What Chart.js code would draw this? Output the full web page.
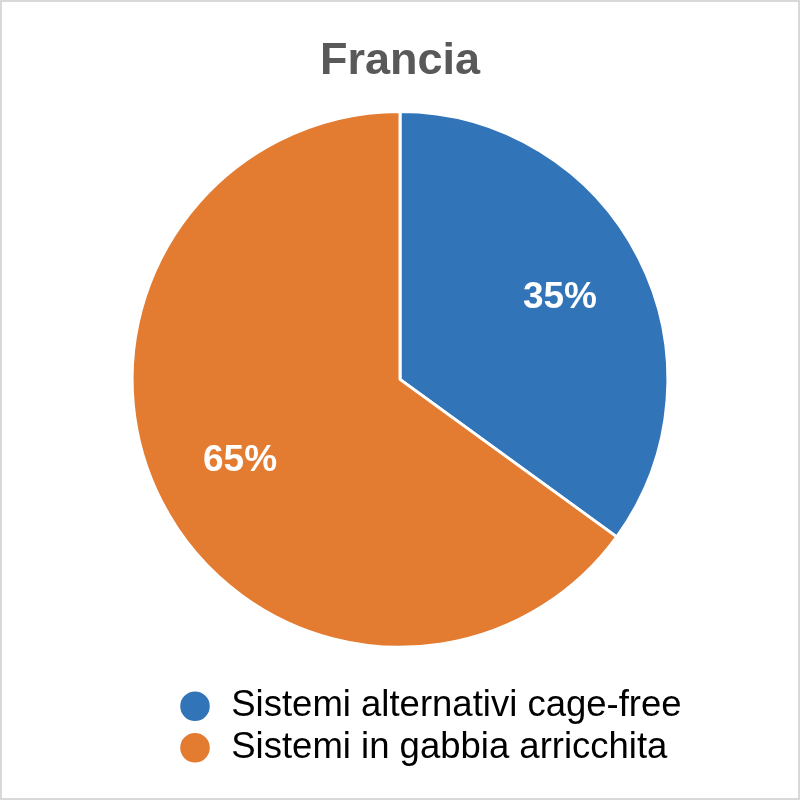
<!DOCTYPE html>
<html>
<head>
<meta charset="utf-8">
<script src="https://cdn.jsdelivr.net/npm/chart.js@4.4.0/dist/chart.umd.min.js"></script>
<style>
  html, body { margin: 0; padding: 0; background: #fff; }
  #wrap {
    width: 800px; height: 800px; box-sizing: border-box;
    border: 2px solid #d9d9d9; position: relative;
  }
</style>
</head>
<body>
<div id="wrap"><canvas id="chart"></canvas></div>
<script>
// Chart data
const categories = ['Sistemi alternativi cage-free', 'Sistemi in gabbia arricchita'];
const shares = [35, 65];
const sliceColors = ['#3274b8', '#e37b31'];
const chartTitle = 'Francia';

const FONT = '"Liberation Sans", Arial, sans-serif';

// Draws the percentage inside each slice
const sliceLabels = {
    id: 'sliceLabels',
    afterDatasetsDraw(chart) {
        const ctx = chart.ctx;
        const meta = chart.getDatasetMeta(0);
        ctx.save();
        ctx.fillStyle = '#ffffff';
        ctx.font = 'bold 37px ' + FONT;
        ctx.textAlign = 'center';
        ctx.textBaseline = 'middle';
        meta.data.forEach(function(arc, i) {
            const mid = (arc.startAngle + arc.endAngle) / 2;
            const d = arc.outerRadius * 0.67;
            const x = arc.x + Math.cos(mid) * d;
            const y = arc.y + Math.sin(mid) * d;
            ctx.fillText(shares[i] + '%', x, y);
        });
        ctx.restore();
    }
};

// Legend in the reference is left aligned and shifted right of center
const legendShift = {
    id: 'legendShift',
    afterLayout(chart) {
        const lg = chart.legend;
        if (lg) {
            lg.left = 170;
        }
    }
};

new Chart(document.getElementById('chart'), {
    type: 'pie',
    data: {
        labels: categories,
        datasets: [{
            data: shares,
            backgroundColor: sliceColors,
            borderColor: '#ffffff',
            borderWidth: 3
        }]
    },
    options: {
        responsive: true,
        maintainAspectRatio: false,
        animation: false,
        layout: { padding: { top: 10, bottom: 22, left: 10, right: 10 } },
        plugins: {
            title: {
                display: true,
                text: chartTitle,
                color: '#595959',
                font: { family: FONT, size: 45, weight: 'bold' },
                padding: { top: 23, bottom: 21 }
            },
            legend: {
                position: 'bottom',
                align: 'start',
                title: {
                    display: true,
                    text: '',
                    font: { size: 1 },
                    padding: { top: 33, bottom: 0 }
                },
                labels: {
                    color: '#000000',
                    font: { family: FONT, size: 36.5 },
                    usePointStyle: true,
                    pointStyle: 'circle',
                    boxWidth: 36,
                    boxHeight: 23,
                    padding: 5
                }
            },
            tooltip: { enabled: false }
        }
    },
    plugins: [sliceLabels, legendShift]
});
</script>
</body>
</html>
